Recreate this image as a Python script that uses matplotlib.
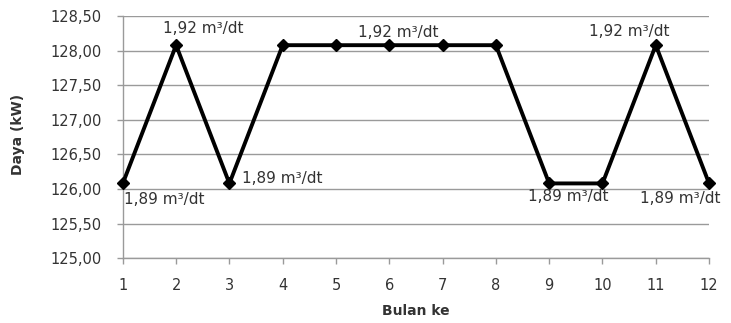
import matplotlib
matplotlib.use("Agg", force=True)
import matplotlib.pyplot as plt
from matplotlib.ticker import FuncFormatter

bulan = [1, 2, 3, 4, 5, 6, 7, 8, 9, 10, 11, 12]
daya = [126.08, 128.08, 126.08, 128.08, 128.08, 128.08, 128.08, 128.08, 126.08, 126.08, 128.08, 126.08]

# (month index, label, offset in pixels of the text's left/centre-y)
labels = [
    (1, "1,89 m³/dt", (1, -16)),
    (2, "1,92 m³/dt", (-13, 17)),
    (3, "1,89 m³/dt", (13, 5)),
    (6, "1,92 m³/dt", (-31, 13)),
    (9, "1,89 m³/dt", (-21, -13)),
    (11, "1,92 m³/dt", (-67, 14)),
    (12, "1,89 m³/dt", (-69, -15)),
]

grey = "#9a9a9a"
text_col = "#333333"

fig = plt.figure(figsize=(7.31, 3.23), dpi=100)
ax = fig.add_axes([0.168, 0.201, 0.802, 0.749])

ax.plot(bulan, daya, color="black", linewidth=2.8, marker="D", markersize=6,
        clip_on=False, zorder=3)

ax.set_xlim(1, 12)
ax.set_ylim(125.0, 128.5)
ax.set_xticks(bulan)
ax.set_yticks([125.0, 125.5, 126.0, 126.5, 127.0, 127.5, 128.0, 128.5])
ax.yaxis.set_major_formatter(FuncFormatter(lambda v, p: f"{v:.2f}".replace(".", ",")))

ax.grid(axis="y", color=grey, linewidth=1)
ax.set_axisbelow(True)
for side in ["top", "right"]:
    ax.spines[side].set_visible(False)
for side in ["left", "bottom"]:
    ax.spines[side].set_color(grey)
    ax.spines[side].set_linewidth(1)

ax.tick_params(axis="both", colors=grey, length=4, width=1, direction="out",
               labelcolor=text_col, labelsize=10.5)
ax.tick_params(axis="y", pad=11)
ax.tick_params(axis="x", pad=10)

for m, txt, (dx, dy) in labels:
    ax.annotate(txt, xy=(m, daya[m - 1]), xytext=(dx, dy), textcoords="offset pixels",
                ha="left", va="center", fontsize=11, color=text_col, zorder=4,
                annotation_clip=False)

ax.set_xlabel("Bulan ke", fontsize=10, fontweight="bold", color=text_col, labelpad=8)
fig.text(0.025, 0.585, "Daya (kW)", rotation=90, fontsize=10, fontweight="bold",
         color=text_col, ha="center", va="center")

fig.savefig("out.png", dpi=100)
